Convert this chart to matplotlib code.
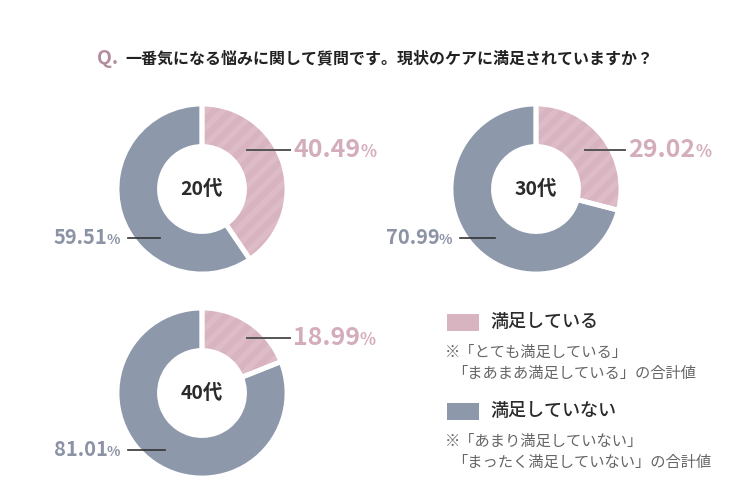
import matplotlib
matplotlib.use("Agg")
import matplotlib.pyplot as plt

plt.rcParams['font.family'] = ['Noto Sans CJK JP', 'DejaVu Sans']
plt.rcParams['hatch.linewidth'] = 4.0

# ---- data ----
groups = ["20代", "30代", "40代"]
satisfied = [40.49, 29.02, 18.99]
not_satisfied = [59.51, 70.99, 81.01]
legend_labels = ["満足している", "満足していない"]
legend_notes = [["※「とても満足している」", "「まあまあ満足している」の合計値"],
                ["※「あまり満足していない」", "「まったく満足していない」の合計値"]]
title = "一番気になる悩みに関して質問です。現状のケアに満足されていますか？"

PINK = "#d8b3c0"
PINK_H = "#ddbcc8"
GRAY = "#8d98ab"
PINK_TXT = "#d4adbc"
GRAY_TXT = "#8b93a5"

W, H = 750, 500
fig = plt.figure(figsize=(7.5, 5), dpi=100)
fig.patch.set_facecolor("white")

# overlay axes in pixel coordinates (drawn above the donuts)
ov = fig.add_axes([0, 0, 1, 1])
ov.set_xlim(0, W)
ov.set_ylim(H, 0)
ov.axis("off")
ov.set_zorder(10)

centers = [(202, 189), (536, 189), (202, 393)]
R = 85
label_pos = {
    0: dict(p=(247, 290, 293, 150), g=(128, 160, 120, 238)),
    1: dict(p=(585, 625, 628, 150), g=(460, 495, 452, 238)),
    2: dict(p=(247, 290, 293, 338), g=(128, 165, 120, 450)),
}

for i, (cx, cy) in enumerate(centers):
    ax = fig.add_axes([(cx - R) / W, 1 - (cy + R) / H, 2 * R / W, 2 * R / H])
    vals = [satisfied[i], not_satisfied[i]]
    ax.pie(vals, colors=[PINK, GRAY], startangle=90, counterclock=False,
           radius=1.0, wedgeprops=dict(width=0.5, edgecolor="none", linewidth=0))
    h, _ = ax.pie(vals, colors=["none", "none"], startangle=90, counterclock=False,
                  radius=1.0, wedgeprops=dict(width=0.5, linewidth=0))
    h[0].set_hatch("//")
    h[0].set_edgecolor(PINK_H)
    h[0].set_linewidth(0)
    h[1].set_visible(False)
    ax.pie(vals, colors=["none", "none"], startangle=90, counterclock=False,
           radius=1.0, wedgeprops=dict(width=0.5, edgecolor="white", linewidth=3.5, fill=False))
    ax.set_xlim(-1, 1)
    ax.set_ylim(-1, 1)
    ax.set_aspect("equal")
    ax.axis("off")
    ax.text(0, 0, groups[i], ha="center", va="center", fontsize=14,
            fontweight="bold", color="#2b2b2b")

    lp = label_pos[i]
    x0, x1, tx, ty = lp["p"]
    ov.plot([x0, x1], [ty, ty], color="#555555", lw=1.4)
    t = ov.text(tx, ty, f"{satisfied[i]:.2f}", ha="left", va="center",
                fontsize=18, fontweight="bold", color=PINK_TXT)
    fig.canvas.draw()
    bb = t.get_window_extent()
    ov.annotate("%", xy=(bb.x1, H - (ty + 2)), xycoords="figure pixels",
                ha="left", va="center", fontsize=12, fontweight="bold", color=PINK_TXT)

    x0, x1, tx, ty = lp["g"]
    ov.plot([x0, x1], [ty, ty], color="#333333", lw=1.2)
    pt = ov.text(tx, ty + 2, "%", ha="right", va="center",
                 fontsize=10, fontweight="bold", color=GRAY_TXT)
    fig.canvas.draw()
    pb = pt.get_window_extent()
    ov.annotate(f"{not_satisfied[i]:.2f}", xy=(pb.x0 + 1, H - ty), xycoords="figure pixels",
                ha="right", va="center", fontsize=14.5, fontweight="bold", color=GRAY_TXT)

# title
ov.text(97, 58, "Q.", ha="left", va="center", fontsize=14, fontweight="bold", color="#b38d9f")
ov.text(125, 58, title, ha="left", va="center", fontsize=11.5, fontweight="bold", color="#222222")

# legend
for j, (col, ly) in enumerate([(PINK, 322), (GRAY, 411)]):
    ov.add_patch(plt.Rectangle((447, ly - 8), 32, 17, facecolor=col, edgecolor="none"))
    ov.text(490, ly, legend_labels[j], ha="left", va="center", fontsize=13,
            fontweight="medium", color="#2b2b2b")
    ov.text(445, ly + 30, legend_notes[j][0], ha="left", va="center", fontsize=11, color="#666666")
    ov.text(452, ly + 51, legend_notes[j][1], ha="left", va="center", fontsize=11, color="#666666")

fig.savefig("out.png", dpi=100, facecolor="white")
